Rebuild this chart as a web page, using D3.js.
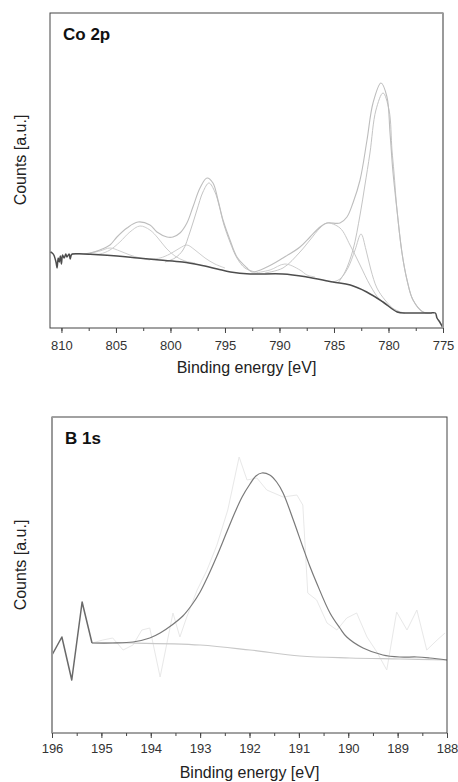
<!DOCTYPE html>
<html>
<head>
<meta charset="utf-8">
<script src="https://cdn.jsdelivr.net/npm/d3@7/dist/d3.min.js"></script>
<style>
  html, body { margin: 0; padding: 0; background: #fff; }
  svg { display: block; font-family: "Liberation Sans", Arial, Helvetica, sans-serif; }
</style>
</head>
<body>
<svg id="chart" width="458" height="782"></svg>
<script>
// ---------- Co 2p spectrum: [binding energy eV, counts a.u.] ----------
const coTickLabels = [810, 805, 800, 795, 790, 785, 780, 775];

// Shirley background (dark trace, noisy at the high-energy end)
const coBackground = [
  [811.0, 76], [810.85, 75], [810.7, 73], [810.5, 66], [810.4, 60], [810.3, 70],
  [810.2, 66], [810.1, 72], [810.0, 64], [809.9, 73], [809.75, 70], [809.6, 74],
  [809.5, 71], [809.3, 74], [809.2, 69], [809.1, 73], [809.0, 74], [808.0, 74],
  [804.9, 72], [803.0, 70], [801.0, 68], [798.9, 66], [797.3, 63], [795.7, 59],
  [794.5, 56], [792.7, 54], [789.7, 54], [787.5, 51], [785.1, 46], [783.5, 43],
  [782.0, 36], [780.5, 26], [779.2, 16], [778.3, 15], [776.2, 15], [775.7, 15],
  [775.55, 10], [775.3, 6], [775.0, 0]
];

// Fit envelope
const coEnvelope = [
  [809.04, 74], [807.39, 75], [806.47, 78], [805.55, 83], [804.91, 91], [803.99, 100],
  [802.98, 106], [801.88, 103], [801.24, 96], [800.32, 91], [799.77, 91], [799.13, 95],
  [798.49, 105], [797.94, 121], [797.29, 140], [796.65, 150], [796.1, 145], [795.64, 128],
  [795.18, 108], [794.54, 88], [793.9, 71], [792.98, 60], [792.52, 56], [791.15, 61],
  [789.68, 70], [788.12, 81], [787.2, 91], [786.28, 101], [785.64, 105], [784.45, 105],
  [783.81, 111], [783.26, 125], [782.61, 148], [781.97, 188], [781.42, 225], [780.69, 245],
  [780.14, 231], [779.86, 195], [779.59, 156], [779.22, 118], [778.76, 75], [778.3, 48],
  [777.75, 28], [776.83, 16], [776.01, 15]
];

// Fitted components
const coPeak780 = [
  [784.63, 45], [783.99, 56], [783.26, 78], [782.61, 113], [782.16, 143], [781.7, 175],
  [781.15, 218], [780.5, 235], [779.95, 218], [779.68, 178], [779.5, 156], [779.22, 118],
  [778.76, 75], [778.3, 48], [777.75, 28], [776.83, 16], [776.19, 15]
];
const coPeak782 = [
  [785.09, 46], [784.45, 49], [783.72, 60], [783.07, 78], [782.52, 94], [782.06, 78],
  [781.61, 58], [781.06, 40], [780.32, 28], [779.4, 18], [778.49, 15]
];
const coSat786 = [
  [791.33, 55], [789.68, 60], [788.12, 76], [787.2, 88], [786.28, 100], [785.64, 105],
  [784.45, 100], [783.53, 83], [782.61, 63], [781.7, 43], [780.78, 28], [779.86, 21],
  [778.94, 16]
];
const coPeak789 = [
  [792.25, 55], [790.87, 58], [789.5, 64], [788.12, 58], [787.48, 53], [786.74, 51]
];
const coPeak796 = [
  [800.5, 66], [799.59, 70], [798.85, 78], [798.21, 96], [797.57, 118], [797.02, 136],
  [796.47, 145], [795.92, 136], [795.55, 123], [795.09, 103], [794.54, 86], [793.9, 70],
  [793.17, 60], [792.25, 56]
];
const coPeak798 = [
  [801.88, 69], [800.96, 70], [800.05, 74], [799.13, 80], [798.49, 83], [797.75, 78],
  [796.83, 70], [795.92, 64], [795.0, 60]
];
const coSat803 = [
  [807.39, 74], [806.47, 74], [805.55, 78], [804.64, 86], [803.72, 96], [802.8, 102],
  [801.88, 98], [801.15, 90], [800.41, 80], [799.59, 72], [798.67, 67], [797.75, 65]
];
const coPeak805 = [
  [807.39, 75], [806.47, 77], [805.55, 80], [804.64, 77], [803.72, 73], [802.8, 70],
  [801.88, 68]
];

// ---------- B 1s spectrum ----------
const bTickLabels = [196, 195, 194, 193, 192, 191, 190, 189, 188];

const bRaw = [
  [195.19, 90], [194.97, 93], [194.77, 95], [194.56, 83], [194.36, 88], [194.18, 103],
  [194.02, 105], [193.81, 56], [193.55, 120], [193.41, 96], [193.27, 116], [193.06, 143],
  [192.86, 163], [192.66, 188], [192.44, 223], [192.21, 276], [192.05, 253], [191.85, 255],
  [191.65, 243], [191.32, 236], [191.04, 238], [190.92, 228], [190.82, 140], [190.64, 133],
  [190.43, 110], [190.23, 103], [190.03, 115], [189.83, 120], [189.62, 96], [189.42, 81],
  [189.22, 63], [189.02, 121], [188.81, 103], [188.61, 123], [188.41, 83], [188.2, 93],
  [188.04, 100]
];
const bNoise = [
  [196.0, 78], [195.8, 96], [195.6, 53], [195.39, 131], [195.19, 90]
];
const bFit = [
  [195.19, 90], [194.77, 90], [194.36, 91], [194.02, 95], [193.81, 100], [193.57, 108],
  [193.35, 117], [193.17, 128], [193.0, 141], [192.84, 157], [192.66, 177], [192.46, 201],
  [192.3, 220], [192.15, 236], [191.99, 249], [191.87, 257], [191.75, 260], [191.59, 258],
  [191.45, 251], [191.32, 240], [191.12, 214], [190.92, 186], [190.78, 167], [190.64, 150],
  [190.37, 120], [190.17, 105], [190.03, 96], [189.7, 85], [189.3, 78], [188.96, 76],
  [188.61, 76], [188.35, 75], [188.0, 73]
];
const bBackground = [
  [195.19, 90], [194.36, 90], [193.0, 88], [191.99, 83], [190.98, 77], [189.97, 75],
  [188.96, 74], [188.0, 73]
];

// ---------- drawing ----------
const svg = d3.select("#chart");

function drawPanel(cfg) {
  const x = d3.scaleLinear().domain(cfg.xDomain).range([cfg.left, cfg.right]);
  const y = d3.scaleLinear().domain(cfg.yDomain).range([cfg.bottom, cfg.top]);
  const g = svg.append("g");

  const smooth = d3.line().x(d => x(d[0])).y(d => y(d[1])).curve(d3.curveCatmullRom.alpha(0.5));
  const straight = d3.line().x(d => x(d[0])).y(d => y(d[1]));

  const plot = g.append("g");
  cfg.series.forEach(s => {
    plot.append("path")
      .attr("d", (s.linear ? straight : smooth)(s.data))
      .attr("fill", "none")
      .attr("stroke", s.color)
      .attr("stroke-width", s.width)
      .attr("stroke-linejoin", "round");
  });

  // frame
  g.append("rect")
    .attr("x", cfg.left).attr("y", cfg.top)
    .attr("width", cfg.right - cfg.left).attr("height", cfg.bottom - cfg.top)
    .attr("fill", "none").attr("stroke", "#444").attr("stroke-width", 1);
  cfg.grayEdges.forEach(xe => {
    g.append("line")
      .attr("x1", xe).attr("x2", xe).attr("y1", cfg.top).attr("y2", cfg.bottom)
      .attr("stroke", "#9a9a9a").attr("stroke-width", 2);
  });

  // minor ticks
  const minor = g.append("g").attr("transform", `translate(0,${cfg.bottom})`)
    .call(d3.axisBottom(x).tickValues(cfg.minorTicks).tickSize(3).tickFormat(""));
  minor.select(".domain").remove();
  minor.selectAll("line").attr("stroke", "#444");

  // major ticks and labels
  const major = g.append("g").attr("transform", `translate(0,${cfg.bottom})`)
    .call(d3.axisBottom(x).tickValues(cfg.ticks).tickSize(5).tickPadding(cfg.pad).tickFormat(d3.format("d")));
  major.select(".domain").remove();
  major.selectAll("line").attr("stroke", "#444");
  major.selectAll("text").attr("font-size", 13).attr("fill", "#333")
    .attr("font-family", "Liberation Sans, Arial, sans-serif");

  g.append("text")
    .attr("x", (cfg.left + cfg.right) / 2).attr("y", cfg.bottom + 45)
    .attr("text-anchor", "middle").attr("font-size", 16).attr("fill", "#222")
    .text("Binding energy [eV]");

  g.append("text")
    .attr("transform", `translate(26,${cfg.yLabelCenter}) rotate(-90)`)
    .attr("text-anchor", "middle").attr("font-size", 16).attr("fill", "#222")
    .text("Counts [a.u.]");

  g.append("text")
    .attr("x", cfg.left + 13).attr("y", cfg.top + 27)
    .attr("font-size", 17).attr("font-weight", "bold").attr("fill", "#111")
    .text(cfg.title);
}

drawPanel({
  title: "Co 2p",
  left: 50, right: 443, top: 13, bottom: 328,
  xDomain: [811.05, 775], yDomain: [0, 315],
  ticks: coTickLabels, minorTicks: d3.range(775, 811, 2.5), pad: 8,
  yLabelCenter: 160, grayEdges: [443],
  series: [
    { data: coPeak805, color: "#cfcfcf", width: 1 },
    { data: coSat803, color: "#cfcfcf", width: 1 },
    { data: coPeak798, color: "#cfcfcf", width: 1 },
    { data: coPeak796, color: "#c4c4c4", width: 1 },
    { data: coPeak789, color: "#cfcfcf", width: 1 },
    { data: coSat786, color: "#c8c8c8", width: 1 },
    { data: coPeak782, color: "#c8c8c8", width: 1 },
    { data: coPeak780, color: "#c4c4c4", width: 1 },
    { data: coEnvelope, color: "#bdbdbd", width: 1.1 },
    { data: coBackground, color: "#4d4d4d", width: 1.5 }
  ]
});

drawPanel({
  title: "B 1s",
  left: 52, right: 447, top: 417, bottom: 733,
  xDomain: [196, 188], yDomain: [0, 316],
  ticks: bTickLabels, minorTicks: d3.range(188, 196, 0.5), pad: 6,
  yLabelCenter: 565, grayEdges: [52],
  series: [
    { data: bRaw, color: "#e8e8e8", width: 1, linear: true },
    { data: bBackground, color: "#c8c8c8", width: 1.2 },
    { data: bFit, color: "#7a7a7a", width: 1.2 },
    { data: bNoise, color: "#6a6a6a", width: 1.5, linear: true }
  ]
});
</script>
</body>
</html>
